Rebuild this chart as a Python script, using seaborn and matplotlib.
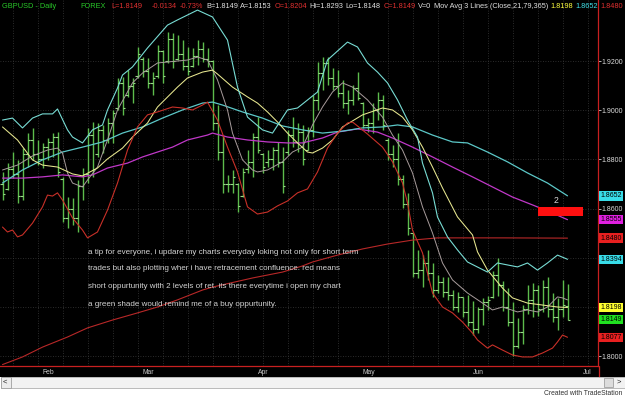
import matplotlib
matplotlib.use("Agg")
import matplotlib.pyplot as plt
import matplotlib.transforms as mtrans
from matplotlib.patches import Rectangle
from matplotlib.lines import Line2D
import seaborn as sns

# ---------------- data (GBPUSD daily, one entry per bar) ----------------
bar_open = [1.8700, 1.8680, 1.8760, 1.8740, 1.8650, 1.8820, 1.8880, 1.8820, 1.8800, 1.8850,
            1.8870, 1.8890, 1.8720, 1.8560, 1.8600, 1.8560, 1.8690, 1.8740, 1.8900, 1.8820,
            1.8920, 1.8880, 1.8950, 1.9010, 1.9110, 1.9060, 1.9100, 1.9140, 1.9210, 1.9160,
            1.9110, 1.9140, 1.9240, 1.9200, 1.9290, 1.9210, 1.9230, 1.9180, 1.9180, 1.9220,
            1.9250, 1.9210, 1.9200, 1.8950, 1.8830, 1.8700, 1.8700, 1.8700, 1.8650, 1.8760,
            1.8790, 1.8890, 1.8820, 1.8790, 1.8800, 1.8840, 1.8790, 1.8830, 1.8900, 1.8870,
            1.8910, 1.8840, 1.8920, 1.9040, 1.9150, 1.9190, 1.9130, 1.9100, 1.9070, 1.9030,
            1.9040, 1.9090, 1.9030, 1.8940, 1.8950, 1.9000, 1.9040, 1.8880, 1.8820, 1.8800,
            1.8720, 1.8620, 1.8500, 1.8340, 1.8350, 1.8380, 1.8340, 1.8270, 1.8300, 1.8260,
            1.8250, 1.8200, 1.8240, 1.8180, 1.8140, 1.8110, 1.8190, 1.8220, 1.8240, 1.8330,
            1.8290, 1.8200, 1.8140, 1.8040, 1.8100, 1.8190, 1.8230, 1.8270, 1.8190, 1.8280,
            1.8190, 1.8160, 1.8190, 1.8204]
bar_high = [1.8749, 1.8785, 1.8830, 1.8798, 1.8846, 1.8907, 1.8928, 1.8879, 1.8867, 1.8887,
            1.8907, 1.8911, 1.8729, 1.8647, 1.8643, 1.8716, 1.8765, 1.8928, 1.8952, 1.8948,
            1.8940, 1.8968, 1.9001, 1.9131, 1.9135, 1.9163, 1.9131, 1.9257, 1.9216, 1.9212,
            1.9155, 1.9265, 1.9245, 1.9318, 1.9314, 1.9306, 1.9285, 1.9257, 1.9253, 1.9285,
            1.9277, 1.9253, 1.9204, 1.9021, 1.8899, 1.8737, 1.8757, 1.8704, 1.8765, 1.8838,
            1.8907, 1.8972, 1.8826, 1.8838, 1.8850, 1.8871, 1.8850, 1.8920, 1.8972, 1.8948,
            1.8940, 1.8932, 1.9062, 1.9196, 1.9216, 1.9216, 1.9172, 1.9163, 1.9123, 1.9082,
            1.9102, 1.9155, 1.9033, 1.8968, 1.9029, 1.9074, 1.9062, 1.8887, 1.8859, 1.8907,
            1.8737, 1.8664, 1.8501, 1.8432, 1.8411, 1.8432, 1.8379, 1.8330, 1.8322, 1.8322,
            1.8269, 1.8261, 1.8241, 1.8249, 1.8224, 1.8200, 1.8237, 1.8245, 1.8346, 1.8399,
            1.8306, 1.8277, 1.8220, 1.8155, 1.8208, 1.8290, 1.8298, 1.8290, 1.8310, 1.8322,
            1.8257, 1.8237, 1.8310, 1.8293]
bar_low = [1.8635, 1.8676, 1.8724, 1.8623, 1.8635, 1.8769, 1.8798, 1.8777, 1.8765, 1.8798,
           1.8810, 1.8729, 1.8546, 1.8521, 1.8533, 1.8505, 1.8635, 1.8704, 1.8729, 1.8810,
           1.8826, 1.8867, 1.8867, 1.9001, 1.8981, 1.9054, 1.9029, 1.9131, 1.9135, 1.9090,
           1.9062, 1.9131, 1.9111, 1.9192, 1.9172, 1.9204, 1.9163, 1.9143, 1.9176, 1.9184,
           1.9196, 1.9176, 1.8920, 1.8798, 1.8664, 1.8668, 1.8664, 1.8586, 1.8647, 1.8745,
           1.8729, 1.8826, 1.8745, 1.8769, 1.8757, 1.8769, 1.8664, 1.8818, 1.8850, 1.8830,
           1.8777, 1.8838, 1.8891, 1.9001, 1.9082, 1.9102, 1.9082, 1.9054, 1.9009, 1.8985,
           1.9021, 1.9042, 1.8928, 1.8911, 1.8907, 1.8960, 1.8920, 1.8798, 1.8769, 1.8696,
           1.8603, 1.8493, 1.8322, 1.8318, 1.8281, 1.8310, 1.8241, 1.8257, 1.8241, 1.8229,
           1.8188, 1.8180, 1.8159, 1.8123, 1.8086, 1.8094, 1.8127, 1.8188, 1.8237, 1.8245,
           1.8184, 1.8123, 1.8001, 1.8033, 1.8050, 1.8172, 1.8159, 1.8163, 1.8180, 1.8159,
           1.8139, 1.8107, 1.8159, 1.8148]
bar_close = [1.8660, 1.8760, 1.8740, 1.8650, 1.8820, 1.8880, 1.8820, 1.8800, 1.8850, 1.8870,
             1.8890, 1.8750, 1.8560, 1.8600, 1.8560, 1.8690, 1.8740, 1.8900, 1.8760, 1.8920,
             1.8880, 1.8950, 1.8990, 1.9110, 1.9010, 1.9100, 1.9110, 1.9230, 1.9160, 1.9110,
             1.9130, 1.9240, 1.9140, 1.9290, 1.9200, 1.9230, 1.9180, 1.9160, 1.9220, 1.9250,
             1.9210, 1.9200, 1.8950, 1.8830, 1.8700, 1.8700, 1.8730, 1.8610, 1.8750, 1.8790,
             1.8890, 1.8840, 1.8770, 1.8800, 1.8840, 1.8790, 1.8690, 1.8900, 1.8870, 1.8910,
             1.8800, 1.8920, 1.9040, 1.9150, 1.9190, 1.9130, 1.9100, 1.9070, 1.9030, 1.9040,
             1.9090, 1.9050, 1.8940, 1.8950, 1.9000, 1.9040, 1.8940, 1.8820, 1.8800, 1.8720,
             1.8620, 1.8520, 1.8340, 1.8350, 1.8380, 1.8340, 1.8270, 1.8300, 1.8260, 1.8250,
             1.8200, 1.8240, 1.8180, 1.8140, 1.8110, 1.8190, 1.8220, 1.8230, 1.8330, 1.8290,
             1.8200, 1.8140, 1.8040, 1.8100, 1.8190, 1.8230, 1.8270, 1.8190, 1.8280, 1.8190,
             1.8160, 1.8190, 1.8210, 1.8149]

# indicator lines: bar index of each read point, and value
upper_band_idx = [0, 2, 4, 6, 8, 10, 11, 13, 14, 16, 18, 20, 21, 23, 24, 26, 29, 33, 35, 39,
                  42, 45, 47, 49, 52, 54, 57, 59, 63, 65, 69, 71, 73, 75, 77, 79, 81, 83, 84, 86,
                  87, 89, 91, 93, 97, 99, 101, 103, 105, 107, 109, 111, 113]
upper_band_val = [1.8960, 1.8968, 1.8928, 1.8968, 1.8985, 1.8985, 1.9005, 1.8920, 1.8891, 1.8867,
                  1.8920, 1.8940, 1.9001, 1.9090, 1.9143, 1.9176, 1.9253, 1.9346, 1.9367, 1.9407,
                  1.9379, 1.9285, 1.9094, 1.8972, 1.8920, 1.8907, 1.9001, 1.9009, 1.9074, 1.9204,
                  1.9277, 1.9257, 1.9192, 1.9155, 1.9111, 1.9042, 1.8960, 1.8891, 1.8785, 1.8664,
                  1.8566, 1.8485, 1.8432, 1.8383, 1.8342, 1.8379, 1.8371, 1.8363, 1.8379, 1.8350,
                  1.8379, 1.8411, 1.8394]

lower_band_idx = [0, 1, 2, 3, 4, 6, 8, 9, 10, 11, 12, 14, 16, 17, 19, 21, 23, 25, 27, 29,
                  31, 34, 36, 38, 40, 41, 43, 45, 47, 49, 51, 53, 55, 57, 59, 61, 63, 65, 67, 69,
                  70, 71, 73, 76, 78, 80, 81, 82, 84, 85, 86, 88, 90, 92, 94, 95, 97, 98, 100, 102,
                  104, 106, 108, 110, 111, 112, 113]
lower_band_val = [1.8525, 1.8505, 1.8513, 1.8485, 1.8493, 1.8541, 1.8607, 1.8655, 1.8651, 1.8664,
                  1.8635, 1.8562, 1.8513, 1.8481, 1.8505, 1.8594, 1.8704, 1.8838, 1.8932, 1.8981,
                  1.8993, 1.9013, 1.9009, 1.9001, 1.9021, 1.9033, 1.8960, 1.8850, 1.8749, 1.8607,
                  1.8578, 1.8586, 1.8611, 1.8631, 1.8664, 1.8680, 1.8749, 1.8846, 1.8907, 1.8948,
                  1.8952, 1.8936, 1.8903, 1.8850, 1.8790, 1.8704, 1.8623, 1.8513, 1.8420, 1.8338,
                  1.8257, 1.8200, 1.8176, 1.8139, 1.8094, 1.8066, 1.8033, 1.8046, 1.8025, 1.8005,
                  1.7997, 1.7997, 1.8013, 1.8033, 1.8058, 1.8086, 1.8077]

middle_idx = [0, 3, 6, 9, 11, 12, 13, 14, 16, 17, 19, 21, 23, 26, 28, 31, 33, 37, 39, 41,
              43, 45, 46, 48, 50, 51, 53, 56, 58, 60, 62, 64, 66, 68, 70, 73, 76, 78, 80, 82,
              83, 84, 86, 88, 90, 93, 96, 98, 100, 103, 105, 107, 109, 111, 112, 113]
middle_val = [1.8757, 1.8777, 1.8814, 1.8838, 1.8846, 1.8826, 1.8745, 1.8704, 1.8688, 1.8716,
              1.8769, 1.8879, 1.9001, 1.9111, 1.9151, 1.9192, 1.9196, 1.9204, 1.9216, 1.9204,
              1.9123, 1.9001, 1.8907, 1.8798, 1.8757, 1.8749, 1.8757, 1.8790, 1.8830, 1.8850,
              1.8940, 1.9013, 1.9074, 1.9111, 1.9094, 1.9042, 1.8972, 1.8899, 1.8838, 1.8745,
              1.8676, 1.8607, 1.8501, 1.8379, 1.8310, 1.8257, 1.8216, 1.8188, 1.8200, 1.8180,
              1.8188, 1.8180, 1.8200, 1.8241, 1.8237, 1.8229]

ma21_idx = [0, 3, 6, 8, 11, 14, 16, 19, 21, 24, 26, 29, 31, 35, 37, 40, 42, 43, 46, 49,
            51, 53, 55, 57, 59, 61, 62, 64, 66, 68, 72, 76, 78, 80, 82, 84, 86, 88, 91, 94,
            95, 97, 100, 102, 105, 108, 111, 113]
ma21_val = [1.8932, 1.8879, 1.8798, 1.8777, 1.8769, 1.8741, 1.8733, 1.8765, 1.8802, 1.8846,
            1.8891, 1.8948, 1.9013, 1.9094, 1.9131, 1.9155, 1.9163, 1.9147, 1.9094, 1.9054,
            1.9029, 1.8993, 1.8952, 1.8907, 1.8867, 1.8830, 1.8826, 1.8846, 1.8879, 1.8932,
            1.8981, 1.9009, 1.9001, 1.8972, 1.8920, 1.8850, 1.8769, 1.8684, 1.8566, 1.8493,
            1.8424, 1.8350, 1.8277, 1.8237, 1.8216, 1.8208, 1.8200, 1.8198]

ma79_idx = [0, 4, 8, 12, 16, 20, 24, 28, 32, 36, 40, 42, 44, 48, 52, 56, 60, 64, 68, 72,
            76, 79, 82, 86, 90, 93, 97, 101, 105, 109, 113]
ma79_val = [1.8704, 1.8757, 1.8798, 1.8830, 1.8850, 1.8871, 1.8907, 1.8932, 1.8968, 1.9001,
            1.9029, 1.9033, 1.9021, 1.8993, 1.8968, 1.8936, 1.8920, 1.8907, 1.8915, 1.8928,
            1.8932, 1.8940, 1.8932, 1.8899, 1.8871, 1.8867, 1.8830, 1.8790, 1.8745, 1.8704,
            1.8652]

magenta_idx = [0, 4, 8, 12, 16, 18, 21, 25, 28, 31, 34, 37, 41, 42, 45, 49, 53, 57, 60, 64,
               67, 71, 75, 78, 82, 86, 90, 94, 98, 102, 106, 110, 113]
magenta_val = [1.8724, 1.8724, 1.8729, 1.8737, 1.8729, 1.8737, 1.8765, 1.8785, 1.8810, 1.8830,
               1.8850, 1.8879, 1.8899, 1.8907, 1.8891, 1.8879, 1.8871, 1.8867, 1.8867, 1.8887,
               1.8911, 1.8924, 1.8911, 1.8887, 1.8850, 1.8810, 1.8769, 1.8729, 1.8688, 1.8647,
               1.8615, 1.8582, 1.8555]

ma365_idx = [0, 4, 8, 13, 17, 22, 27, 31, 35, 40, 42, 50, 53, 56, 60, 62, 67, 72, 77, 82,
             87, 93, 100, 113]
ma365_val = [1.7966, 1.7997, 1.8037, 1.8078, 1.8115, 1.8147, 1.8176, 1.8200, 1.8229, 1.8269,
             1.8281, 1.8318, 1.8330, 1.8342, 1.8367, 1.8383, 1.8411, 1.8436, 1.8456, 1.8472,
             1.8481, 1.8481, 1.8481, 1.8480]

# red short-opportunity zone (bar index range, price range) and its label
zone_start, zone_end = 107.1, 116.1
zone_low, zone_high = 1.8570, 1.8607
zone_label = "2"

month_labels = ["Feb", "Mar", "Apr", "May", "Jun", "Jul"]
month_first_bar = [8, 28, 51, 72, 94, 116]
week_start_bar = list(range(2, 118, 5))
price_ticks = [1.80, 1.82, 1.84, 1.86, 1.88, 1.90, 1.92]

last_values = [1.8652, 1.8555, 1.8480, 1.8394, 1.8198, 1.8149, 1.8077]
last_colors = ["#38dce8", "#e020e0", "#e82020", "#38dce8", "#ffff30", "#20e020", "#e82020"]

header_parts = [("GBPUSD - Daily", "#28c828"), ("FOREX", "#28c828"),
                ("L=1.8149", "#e03030"), ("-0.0134", "#e03030"), ("-0.73%", "#e03030"),
                ("B=1.8149", "#e0e0e0"), ("A=1.8153", "#e0e0e0"), ("O=1.8204", "#e03030"),
                ("Hi=1.8293", "#e0e0e0"), ("Lo=1.8148", "#e0e0e0"), ("C=1.8149", "#e03030"),
                ("V=0", "#e0e0e0"), ("Mov Avg 3 Lines (Close,21,79,365)", "#e0e0e0"),
                ("1.8198", "#ffff40"), ("1.8652", "#40e0e8"), ("1.8480", "#e03030")]
header_x = [2, 80, 111, 152, 180, 200, 233, 269, 306, 341, 377, 407, 421, 541, 566, 591]

note_lines = ["a tip for everyone, i updare my charts everyday loking not only for short term",
              "trades but also plotting wher i have retracement confluence. red means",
              "short oppurtunity with 2 levels of ret. its there everytime i open my chart",
              "a green shade would remind me of a buy oppurtunity."]
note_y = [252, 268, 286, 304]

# ---------------- styling ----------------
W, H = 625, 398
sns.set_style("dark", {"axes.facecolor": "black", "figure.facecolor": "black",
                       "grid.color": "#3c3c3c", "axes.edgecolor": "#c02020"})
plt.rcParams['font.family'] = ['Liberation Sans', 'DejaVu Sans']

fig = plt.figure(figsize=(W / 100, H / 100), dpi=100, facecolor="black")
ax = fig.add_axes([0, 32 / H, 598 / W, 366 / H])
ax.set_facecolor("black")

def fx(px):
    return px / W

def fy(py):
    return 1 - py / H

# grid and ticks
ax.set_xticks(month_first_bar)
ax.set_xticklabels(month_labels, ha="left", fontsize=4.9, color="#c8c8c8")
ax.set_xticks(week_start_bar, minor=True)
ax.tick_params(axis="x", which="major", length=0, pad=2.2)
ax.tick_params(axis="x", which="minor", length=2, color="#c02020", width=0.6)
ax.grid(which="minor", axis="x", color="#3a3a3a", ls=(0, (1, 2)), lw=0.6)
ax.grid(which="major", axis="x", visible=False)
ax.set_yticks(price_ticks)
ax.yaxis.tick_right()
ax.set_yticklabels([f"{v:.4f}" for v in price_ticks])
ax.tick_params(axis="y", which="major", length=2.2, width=0.6, color="#d0d0d0",
               labelcolor="#dcdcdc", labelsize=5.0, pad=0.6)
ax.grid(which="major", axis="y", color="#3a3a3a", ls=(0, (1, 2)), lw=0.6)

for s in ["top", "left"]:
    ax.spines[s].set_visible(False)
for s in ["right", "bottom"]:
    ax.spines[s].set_color("#c82020")
    ax.spines[s].set_linewidth(0.9)

# lines
def draw_line(idx, vals, color, lw=0.8, z=3):
    sns.lineplot(x=idx, y=vals, ax=ax, color=color, lw=lw, estimator=None,
                 sort=False, legend=False, zorder=z)

draw_line(ma365_idx, ma365_val, "#b82828")
draw_line(magenta_idx, magenta_val, "#c038c8", lw=0.9)
draw_line(ma79_idx, ma79_val, "#5cc8c8", lw=0.9)

# OHLC bars
xs = list(range(len(bar_high)))
ax.vlines(xs, bar_low, bar_high, color="#5cbc4c", lw=1.0, zorder=2)
ax.hlines(bar_open, [x - 0.45 for x in xs], xs, color="#98dc88", lw=0.8, zorder=2)
ax.hlines(bar_close, xs, [x + 0.45 for x in xs], color="#98dc88", lw=0.8, zorder=2)

draw_line(middle_idx, middle_val, "#a89c9c", lw=0.7)
draw_line(ma21_idx, ma21_val, "#e8e890", lw=0.75)
draw_line(upper_band_idx, upper_band_val, "#78dcd4", lw=0.8)
draw_line(lower_band_idx, lower_band_val, "#c83028", lw=0.8)

# zone
ax.add_patch(Rectangle((zone_start, zone_low), zone_end - zone_start, zone_high - zone_low,
                       fc="#ff1010", ec="none", zorder=4, clip_on=False))
ax.text((zone_start + zone_end) / 2 - 0.8, zone_high + 0.0008, zone_label, color="#d8d8d8",
        fontsize=6.2, ha="center", va="bottom", zorder=5)

ax.set_xlim(-0.5, 119.1)
ax.set_ylim(1.79602, 1.9448)
ax.set_xlabel("")
ax.set_ylabel("")

# last-value boxes on price axis
trans = mtrans.blended_transform_factory(fig.transFigure, ax.transData)
for v, c in zip(last_values, last_colors):
    fig.text(fx(600.5), v, f"{v:.4f}", transform=trans, fontsize=5.0, color="black",
             va="center", ha="left", zorder=10,
             bbox=dict(boxstyle="square,pad=0.18", fc=c, ec="none"))

# header: pieces start at their reference position unless the previous one runs into it
renderer = fig.canvas.get_renderer()
prev_end = -1e9
for (t, c), x in zip(header_parts, header_x):
    start = max(x, prev_end + 2.5)
    txt = fig.text(fx(start), fy(6), t, color=c, fontsize=5.3, va="center", ha="left")
    bb = txt.get_window_extent(renderer)
    prev_end = start + bb.width

# annotation
for t, y in zip(note_lines, note_y):
    fig.text(fx(88), fy(y), t, color="#d4d4d4", fontsize=5.8, va="center", ha="left")

# red right border extension below the axes
fig.add_artist(Line2D([fx(598.5), fx(598.5)], [fy(366), fy(377)], color="#c82020", lw=0.9))

# scrollbar and footer
fig.add_artist(Rectangle((0, 0), 1, fy(377), transform=fig.transFigure, fc="white", ec="none", zorder=1))
fig.add_artist(Rectangle((fx(0.5), fy(388)), fx(624), 11 / H, transform=fig.transFigure,
                         fc="#f2f2f2", ec="#b0b0b0", lw=0.6, zorder=2))
fig.add_artist(Rectangle((fx(0.5), fy(388)), fx(10), 11 / H, transform=fig.transFigure,
                         fc="#ececec", ec="#a0a0a0", lw=0.6, zorder=3))
fig.add_artist(Rectangle((fx(604), fy(387)), fx(9), 9 / H, transform=fig.transFigure,
                         fc="#dcdcdc", ec="#a0a0a0", lw=0.6, zorder=3))
fig.text(fx(3), fy(382.5), "<", fontsize=5.5, color="#202020", va="center", zorder=4)
fig.text(fx(617), fy(382.5), ">", fontsize=5.5, color="#202020", va="center", zorder=4)
fig.text(fx(622), fy(393.5), "Created with TradeStation", fontsize=4.9, color="#303030",
         ha="right", va="center", zorder=4)

fig.savefig("out.png", dpi=100, facecolor=fig.get_facecolor())
